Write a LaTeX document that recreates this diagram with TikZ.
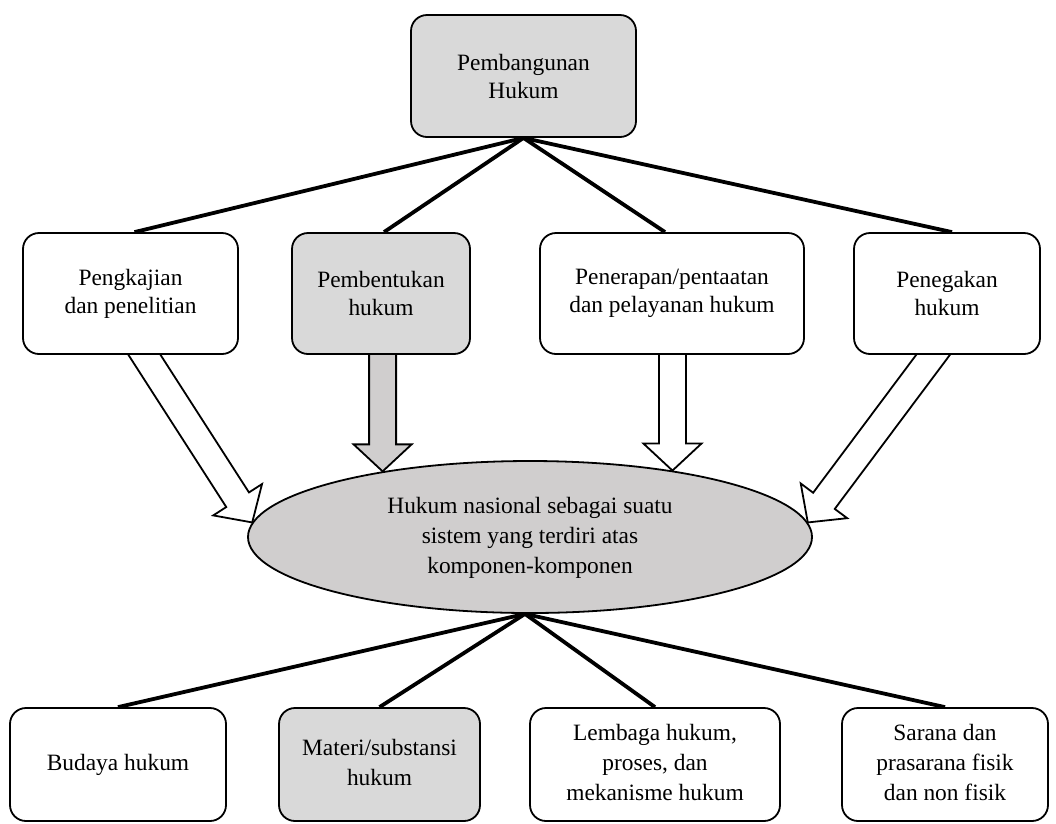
\documentclass[tikz,border=0pt]{standalone}
\usepackage{fontspec}
\setmainfont{Liberation Serif}
\usetikzlibrary{calc,shapes.geometric,backgrounds}
\definecolor{boxgray}{HTML}{D9D9D9}
\definecolor{ovalgray}{HTML}{D0CECE}

\tikzset{
  box/.style={draw, line width=1.8pt, rounded corners=16pt, align=center,
    inner sep=0pt, font=\fontsize{23.4}{28}\selectfont},
  lowbox/.style={box, minimum height=113pt, font=\fontsize{23.4}{30}\selectfont},
  shaded/.style={fill=boxgray},
  plain/.style={fill=white},
  oval/.style={ellipse, draw, line width=1.8pt, fill=ovalgray, inner sep=0pt,
    minimum width=564pt, minimum height=152pt, align=center,
    font=\fontsize{23.4}{30}\selectfont},
  link/.style={line width=3.8pt},
  blockline/.style={draw=black, line width=1.8pt, line join=miter}
}

% centred lines of text, set a little below the middle of their shape
\newcommand\lowered[2]{\raisebox{-#1}{\begin{tabular}{@{}c@{}}#2\end{tabular}}}

% hollow block arrow from #2 to #3, filled with #1
\newcommand\blockarrow[3]{%
  \path[blockline, fill=#1] let \p1=(#2), \p2=(#3),
      \n1={atan2(\y2-\y1,\x2-\x1)}, \n2={veclen(\x2-\x1,\y2-\y1)} in
    [shift={(\p1)}, rotate=\n1]
    (-20pt,-13.5pt) -- (\n2-27pt,-13.5pt) -- (\n2-27pt,-29pt) -- (\n2,0pt)
    -- (\n2-27pt,29pt) -- (\n2-27pt,13.5pt) -- (-20pt,13.5pt) -- cycle;}

\begin{document}
\begin{tikzpicture}[x=1pt, y=-1pt]
\useasboundingbox (0,0) rectangle (1056,823);

% top
\node[box, shaded, minimum width=225pt, minimum height=122pt] (top) at (523.5,76)
  {Pembangunan\\Hukum};

% activities
\node[box, plain, minimum width=215pt, minimum height=121pt] (b1) at (130.5,293.5)
  {Pengkajian\\dan penelitian};
\node[box, shaded, minimum width=178pt, minimum height=121pt] (b2) at (381,293.5)
  {Pembentukan\\hukum};
\node[box, plain, minimum width=264pt, minimum height=121pt] (b3) at (672,293.5)
  {Penerapan/pentaatan\\dan pelayanan hukum};
\node[box, plain, minimum width=186pt, minimum height=121pt] (b4) at (947,293.5)
  {Penegakan\\hukum};

% system
\node[oval] (sys) at (530,537)
  {\lowered{7pt}{Hukum nasional sebagai suatu\\
   sistem yang terdiri atas\\komponen-komponen}};

% components
\node[lowbox, plain, minimum width=216pt] (c1) at (118,764.5)
  {\lowered{5pt}{Budaya hukum}};
\node[lowbox, shaded, minimum width=201pt] (c2) at (379.5,764.5)
  {\lowered{5pt}{Materi/substansi\\hukum}};
\node[lowbox, plain, minimum width=250pt] (c3) at (655,764.5)
  {\lowered{5pt}{Lembaga hukum,\\proses, dan\\mekanisme hukum}};
\node[lowbox, plain, minimum width=206pt] (c4) at (945,764.5)
  {\lowered{5pt}{Sarana dan\\prasarana fisik\\dan non fisik}};

% block arrows into the system
\coordinate (e1) at (sys.177);
\coordinate (e2) at (sys.156);
\coordinate (e3) at (sys.25);
\coordinate (e4) at (sys.3.3);
\coordinate (s1) at ($(b1.south)+(14,0)$);
\coordinate (s2) at (b2.south -| e2);
\coordinate (s3) at (b3.south -| e3);
\coordinate (s4) at ($(b4.south)+(-14,0)$);
\begin{pgfonlayer}{background}
  \blockarrow{white}{s1}{e1}
  \blockarrow{ovalgray}{s2}{e2}
  \blockarrow{white}{s3}{e3}
  \blockarrow{white}{s4}{e4}
\end{pgfonlayer}

% tree links
\draw[link] (top.south) -- ($(b1.north)+(4,0)$);
\draw[link] (top.south) -- ($(b2.north)+(3,0)$);
\draw[link] (top.south) -- ($(b3.north)+(-7,0)$);
\draw[link] (top.south) -- ($(b4.north)+(5,0)$);
\coordinate (hub) at ($(sys.south)+(-5,0)$);
\foreach \c in {c1,c2,c3,c4} \draw[link] (hub) -- (\c.north);
\end{tikzpicture}
\end{document}
